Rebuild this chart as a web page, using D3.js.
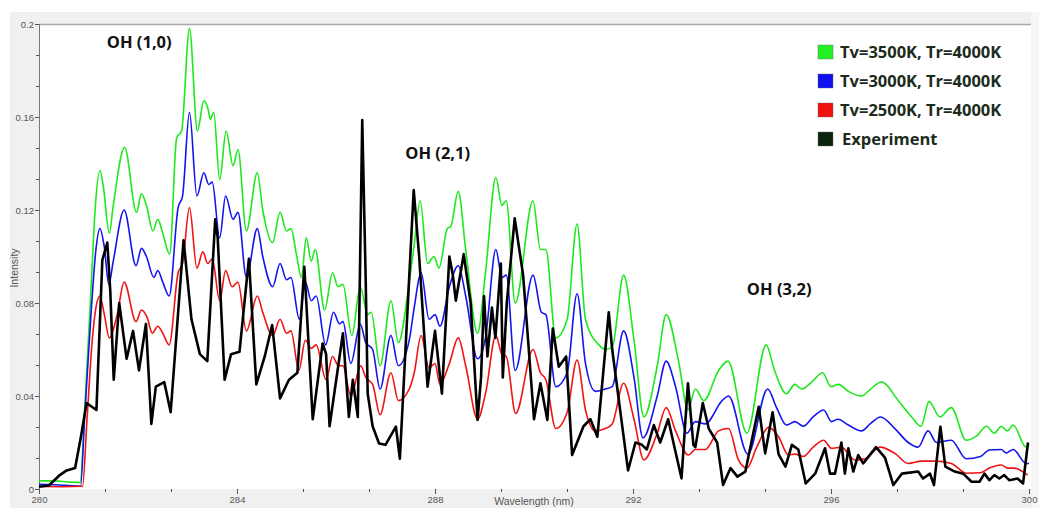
<!DOCTYPE html>
<html>
<head>
<meta charset="utf-8">
<script src="https://cdn.jsdelivr.net/npm/d3@7"></script>
<style>
  body { margin: 0; background: #fff; }
  .tickText { font-family: "Liberation Sans", Arial, sans-serif; font-size: 9.5px; fill: #555; }
  .axisTitle { font-family: "Liberation Sans", Arial, sans-serif; font-size: 10.5px; fill: #555; }
  .note { font-family: "Open Sans", sans-serif; font-weight: 700; font-size: 16.5px; fill: #111; }
  .legendText { font-family: "Open Sans", sans-serif; font-weight: 700; font-size: 16.5px; fill: #1c2b1c; }
</style>
</head>
<body>
<svg id="chart" width="1039" height="508"></svg>
<script>
// wavelength (nm), intensity
var sim3500 = [[280.0,0.0035],[280.3,0.0035],[280.6,0.003],[280.83,0.0028],[280.93,0.037],[281.06,0.09],[281.13,0.119],[281.23,0.137],[281.3,0.13],[281.42,0.110],[281.5,0.122],[281.73,0.147],[281.97,0.119],[282.07,0.127],[282.17,0.122],[282.3,0.111],[282.4,0.116],[282.5,0.110],[282.64,0.101],[282.78,0.151],[282.88,0.154],[283.04,0.198],[283.2,0.154],[283.33,0.167],[283.42,0.163],[283.46,0.159],[283.53,0.162],[283.65,0.133],[283.78,0.154],[283.92,0.139],[284.02,0.146],[284.19,0.111],[284.41,0.136],[284.52,0.120],[284.72,0.106],[284.87,0.119],[285.0,0.111],[285.09,0.112],[285.2,0.101],[285.3,0.091],[285.4,0.108],[285.5,0.098],[285.58,0.103],[285.77,0.077],[285.93,0.093],[286.04,0.087],[286.14,0.088],[286.32,0.066],[286.49,0.087],[286.64,0.075],[286.71,0.076],[286.89,0.053],[287.11,0.081],[287.26,0.063],[287.48,0.089],[287.58,0.105],[287.70,0.124],[287.85,0.097],[287.98,0.100],[288.08,0.095],[288.25,0.112],[288.32,0.113],[288.47,0.128],[288.62,0.103],[288.86,0.067],[289.02,0.093],[289.23,0.134],[289.35,0.122],[289.44,0.124],[289.62,0.080],[289.98,0.124],[290.13,0.103],[290.24,0.103],[290.44,0.065],[290.67,0.073],[290.87,0.114],[291.04,0.073],[291.31,0.062],[291.44,0.060],[291.58,0.061],[291.81,0.092],[292.02,0.064],[292.22,0.031],[292.49,0.053],[292.67,0.075],[292.92,0.055],[293.11,0.034],[293.26,0.043],[293.43,0.038],[293.73,0.051],[293.92,0.055],[294.3,0.024],[294.69,0.062],[294.86,0.051],[295.1,0.041],[295.27,0.045],[295.41,0.043],[295.61,0.046],[295.83,0.050],[296.0,0.044],[296.15,0.045],[296.35,0.042],[296.62,0.040],[296.8,0.043],[297.02,0.046],[297.36,0.038],[297.63,0.031],[297.82,0.027],[297.98,0.0376],[298.2,0.031],[298.43,0.035],[298.73,0.021],[298.95,0.023],[299.14,0.027],[299.3,0.024],[299.44,0.027],[299.56,0.025],[299.68,0.0275],[299.94,0.018],[300.0,0.019]];

var sim3000 = [[280.0,0.002],[280.3,0.0018],[280.6,0.0015],[280.84,0.0012],[280.92,0.03],[281.05,0.075],[281.15,0.103],[281.23,0.112],[281.32,0.104],[281.41,0.088],[281.5,0.098],[281.72,0.120],[281.96,0.096],[282.07,0.1035],[282.17,0.100],[282.32,0.091],[282.4,0.094],[282.5,0.089],[282.63,0.083],[282.81,0.121],[282.9,0.126],[283.04,0.162],[283.19,0.126],[283.33,0.136],[283.43,0.131],[283.5,0.132],[283.65,0.108],[283.77,0.126],[283.92,0.116],[284.02,0.119],[284.19,0.091],[284.41,0.112],[284.52,0.100],[284.72,0.087],[284.87,0.097],[285.0,0.090],[285.09,0.091],[285.26,0.073],[285.38,0.089],[285.5,0.081],[285.6,0.083],[285.79,0.062],[285.95,0.076],[286.07,0.071],[286.14,0.072],[286.3,0.054],[286.49,0.071],[286.6,0.063],[286.74,0.060],[286.89,0.043],[287.11,0.066],[287.26,0.053],[287.48,0.064],[287.58,0.078],[287.72,0.093],[287.88,0.073],[288.0,0.075],[288.1,0.070],[288.29,0.087],[288.47,0.096],[288.62,0.083],[288.86,0.056],[289.02,0.065],[289.23,0.103],[289.35,0.091],[289.44,0.092],[289.62,0.051],[289.98,0.092],[290.15,0.076],[290.24,0.075],[290.44,0.044],[290.67,0.050],[290.87,0.084],[291.04,0.054],[291.24,0.042],[291.44,0.043],[291.58,0.044],[291.81,0.068],[292.02,0.048],[292.2,0.022],[292.49,0.040],[292.67,0.055],[292.86,0.044],[293.09,0.024],[293.26,0.029],[293.46,0.028],[293.8,0.038],[293.93,0.040],[294.32,0.015],[294.72,0.043],[294.9,0.035],[295.1,0.0275],[295.27,0.029],[295.44,0.027],[295.64,0.031],[295.85,0.034],[296.01,0.029],[296.14,0.030],[296.35,0.0275],[296.62,0.025],[296.79,0.028],[297.0,0.031],[297.29,0.026],[297.56,0.020],[297.76,0.018],[297.96,0.025],[298.13,0.020],[298.43,0.021],[298.73,0.013],[299.02,0.014],[299.2,0.0168],[299.44,0.017],[299.54,0.0155],[299.68,0.017],[299.94,0.011],[300.0,0.011]];

var sim2500 = [[280.0,0.0012],[280.5,0.001],[280.88,0.0012],[280.97,0.03],[281.08,0.065],[281.15,0.078],[281.23,0.083],[281.32,0.075],[281.42,0.065],[281.58,0.075],[281.72,0.089],[281.96,0.072],[282.07,0.077],[282.18,0.074],[282.29,0.067],[282.4,0.070],[282.5,0.067],[282.63,0.062],[282.81,0.093],[282.9,0.097],[283.04,0.121],[283.19,0.095],[283.31,0.102],[283.41,0.097],[283.5,0.099],[283.65,0.081],[283.77,0.094],[283.9,0.087],[284.02,0.089],[284.19,0.068],[284.41,0.083],[284.52,0.076],[284.72,0.066],[284.87,0.073],[285.0,0.067],[285.09,0.068],[285.25,0.051],[285.38,0.064],[285.5,0.0605],[285.6,0.062],[285.8,0.047],[285.93,0.057],[286.05,0.053],[286.14,0.053],[286.3,0.040],[286.5,0.053],[286.6,0.048],[286.74,0.045],[286.89,0.032],[287.11,0.050],[287.26,0.038],[287.48,0.043],[287.58,0.050],[287.72,0.066],[287.88,0.052],[288.0,0.054],[288.1,0.045],[288.29,0.054],[288.47,0.065],[288.62,0.053],[288.86,0.030],[289.02,0.041],[289.23,0.066],[289.35,0.058],[289.44,0.057],[289.63,0.0325],[289.98,0.060],[290.13,0.050],[290.24,0.047],[290.44,0.026],[290.67,0.033],[290.87,0.0555],[291.04,0.034],[291.24,0.025],[291.44,0.026],[291.58,0.028],[291.81,0.0455],[292.02,0.030],[292.22,0.0125],[292.49,0.024],[292.67,0.035],[292.86,0.025],[293.12,0.0146],[293.26,0.017],[293.46,0.017],[293.73,0.025],[293.93,0.026],[294.13,0.0125],[294.3,0.009],[294.5,0.018],[294.74,0.0265],[294.94,0.0225],[295.14,0.0146],[295.27,0.015],[295.44,0.014],[295.64,0.018],[295.85,0.021],[296.01,0.0175],[296.21,0.018],[296.48,0.0125],[296.69,0.013],[296.99,0.018],[297.29,0.0153],[297.56,0.011],[297.83,0.012],[298.1,0.012],[298.43,0.011],[298.73,0.0068],[299.02,0.007],[299.2,0.009],[299.44,0.0103],[299.57,0.009],[299.7,0.009],[299.97,0.006]];

var experiment = [[280.0,0.001],[280.2,0.0015],[280.42,0.006],[280.56,0.008],[280.73,0.009],[280.86,0.024],[280.96,0.037],[281.16,0.034],[281.28,0.0985],[281.38,0.106],[281.44,0.085],[281.51,0.047],[281.62,0.080],[281.77,0.056],[281.9,0.068],[282.02,0.051],[282.16,0.071],[282.27,0.028],[282.36,0.044],[282.53,0.046],[282.66,0.033],[282.92,0.107],[283.08,0.073],[283.25,0.058],[283.4,0.055],[283.56,0.116],[283.61,0.108],[283.75,0.047],[283.88,0.058],[284.05,0.059],[284.24,0.099],[284.39,0.045],[284.56,0.057],[284.71,0.0705],[284.87,0.039],[285.05,0.047],[285.22,0.050],[285.36,0.0956],[285.53,0.030],[285.73,0.0626],[285.8,0.058],[285.87,0.027],[286.14,0.067],[286.26,0.031],[286.34,0.047],[286.44,0.031],[286.53,0.1587],[286.6,0.090],[286.64,0.041],[286.74,0.027],[286.87,0.0196],[287.0,0.019],[287.21,0.0268],[287.29,0.013],[287.57,0.1286],[287.68,0.100],[287.85,0.044],[288.0,0.068],[288.14,0.041],[288.29,0.100],[288.36,0.092],[288.42,0.081],[288.58,0.101],[288.72,0.080],[288.86,0.0297],[288.93,0.048],[288.99,0.083],[289.06,0.057],[289.15,0.078],[289.22,0.065],[289.33,0.097],[289.37,0.048],[289.45,0.080],[289.61,0.1164],[289.78,0.092],[289.87,0.067],[290.0,0.030],[290.13,0.0455],[290.27,0.0297],[290.38,0.069],[290.5,0.0526],[290.65,0.057],[290.77,0.0146],[291.0,0.027],[291.14,0.030],[291.28,0.0225],[291.51,0.076],[291.58,0.060],[291.9,0.008],[292.05,0.020],[292.18,0.019],[292.28,0.017],[292.42,0.0275],[292.55,0.020],[292.71,0.030],[292.98,0.0046],[293.11,0.0455],[293.22,0.019],[293.26,0.018],[293.41,0.037],[293.53,0.026],[293.7,0.020],[293.82,0.0017],[293.97,0.009],[294.11,0.0053],[294.27,0.0075],[294.54,0.0354],[294.67,0.0153],[294.82,0.033],[294.94,0.015],[295.08,0.0096],[295.21,0.019],[295.34,0.017],[295.49,0.0024],[295.68,0.0066],[295.88,0.0175],[295.98,0.0066],[296.08,0.0066],[296.21,0.020],[296.28,0.0066],[296.35,0.0175],[296.45,0.0075],[296.55,0.0146],[296.65,0.011],[296.91,0.018],[297.09,0.0135],[297.26,0.0017],[297.43,0.0066],[297.76,0.0075],[297.86,0.0045],[298.0,0.0066],[298.08,0.0017],[298.21,0.0268],[298.31,0.0096],[298.5,0.0075],[298.67,0.0066],[298.84,0.0031],[299.0,0.0031],[299.1,0.0066],[299.2,0.0038],[299.3,0.006],[299.4,0.0045],[299.5,0.006],[299.6,0.0038],[299.77,0.0045],[299.88,0.0024],[299.98,0.020]];

var seriesNames = ["Tv=3500K, Tr=4000K", "Tv=3000K, Tr=4000K", "Tv=2500K, Tr=4000K", "Experiment"];
var xTicks = [280, 284, 288, 292, 296, 300];
var yTicks = [0, 0.04, 0.08, 0.12, 0.16, 0.2];
var bandLabels = [["OH (1,0)", 281.37, 0.1895], ["OH (2,1)", 287.4, 0.142], ["OH (3,2)", 294.3, 0.0835]];

var svg = d3.select("#chart");

// grey frame + white plot area
svg.append("rect").attr("x", 10).attr("y", 12).attr("width", 1029).attr("height", 496).attr("fill", "#f0f0f0");
svg.append("rect").attr("x", 1031).attr("y", 12).attr("width", 8).attr("height", 496).attr("fill", "#f7f7f7");
svg.append("rect").attr("x", 39).attr("y", 24).attr("width", 992).attr("height", 465).attr("fill", "#fff");
svg.append("line").attr("x1", 39).attr("x2", 1031).attr("y1", 24.5).attr("y2", 24.5)
    .attr("stroke", "#a8a8a8").attr("stroke-width", 1.5);

var x = d3.scaleLinear().domain([280, 300]).range([39, 1029]);
var y = d3.scaleLinear().domain([0, 0.2]).range([489, 24]);

//minor ticks: 3 per major step
var xMinor = d3.range(0, 16).map(function(i){ return 280 + i * 4 / 3; }).filter(function(d){ return d <= 300.01; });
var yMinor = d3.range(0, 16).map(function(i){ return i * 0.04 / 3; });

var xAxis = svg.append("g").attr("transform", "translate(0,489)");
xAxis.call(d3.axisBottom(x).tickValues(xMinor).tickSize(3).tickFormat(""));
xAxis.append("g").call(d3.axisBottom(x).tickValues(xTicks).tickSize(5).tickPadding(2).tickFormat(d3.format("d")));
xAxis.selectAll(".domain").remove();
xAxis.selectAll("line").attr("stroke", "#555");
xAxis.selectAll("text").attr("class", "tickText").attr("fill", null).attr("font-size", null).attr("font-family", null);

var yAxis = svg.append("g").attr("transform", "translate(39,0)");
yAxis.call(d3.axisLeft(y).tickValues(yMinor).tickSize(3).tickFormat(""));
yAxis.append("g").call(d3.axisLeft(y).tickValues(yTicks).tickSize(4).tickPadding(1)
    .tickFormat(function(d){ return d === 0 ? "0" : String(+d.toFixed(2)); }));
yAxis.selectAll(".domain").attr("stroke", "#777");
yAxis.selectAll("line").attr("stroke", "#555");
yAxis.selectAll("text").attr("class", "tickText").attr("fill", null).attr("font-size", null).attr("font-family", null);

svg.append("text").attr("class", "axisTitle").attr("x", 534).attr("y", 505).attr("text-anchor", "middle")
    .text("Wavelength (nm)");
svg.append("text").attr("class", "axisTitle").attr("text-anchor", "middle")
    .attr("transform", "translate(18,268) rotate(-90)").text("Intensity");

// series lines
var smoothLine = d3.line().x(function(d){ return x(d[0]); }).y(function(d){ return y(d[1]); }).curve(d3.curveMonotoneX);
var rawLine = d3.line().x(function(d){ return x(d[0]); }).y(function(d){ return y(d[1]); });

var lines = [
  {data: sim3500, color: "#1ee81e", width: 1.6, gen: smoothLine},
  {data: sim3000, color: "#1414f0", width: 1.6, gen: smoothLine},
  {data: sim2500, color: "#f01414", width: 1.6, gen: smoothLine},
  {data: experiment, color: "#000", width: 2.6, gen: rawLine}
];
var plot = svg.append("g");
lines.forEach(function(s){
    plot.append("path").attr("d", s.gen(s.data)).attr("fill", "none")
        .attr("stroke", s.color).attr("stroke-width", s.width).attr("stroke-linejoin", "round");
});

// band annotations
svg.selectAll(".note").data(bandLabels).enter().append("text").attr("class", "note")
    .attr("x", function(d){ return x(d[1]); }).attr("y", function(d){ return y(d[2]); })
    .text(function(d){ return d[0]; });

// legend
var legendColors = ["#22f022", "#1010ee", "#f01010", "#0b240b"];
var legend = svg.append("g").attr("transform", "translate(818,45)");
var row = legend.selectAll("g").data(seriesNames).enter().append("g")
    .attr("transform", function(d, i){ return "translate(0," + (i * 29) + ")"; });
row.append("rect").attr("width", 15).attr("height", 14)
    .attr("fill", function(d, i){ return legendColors[i]; })
    .attr("stroke", "#666").attr("stroke-width", 0.4);
row.append("text").attr("class", "legendText").attr("x", function(d, i){ return i === 3 ? 24 : 22; }).attr("y", 13)
    .text(function(d){ return d; });
</script>
</body>
</html>
